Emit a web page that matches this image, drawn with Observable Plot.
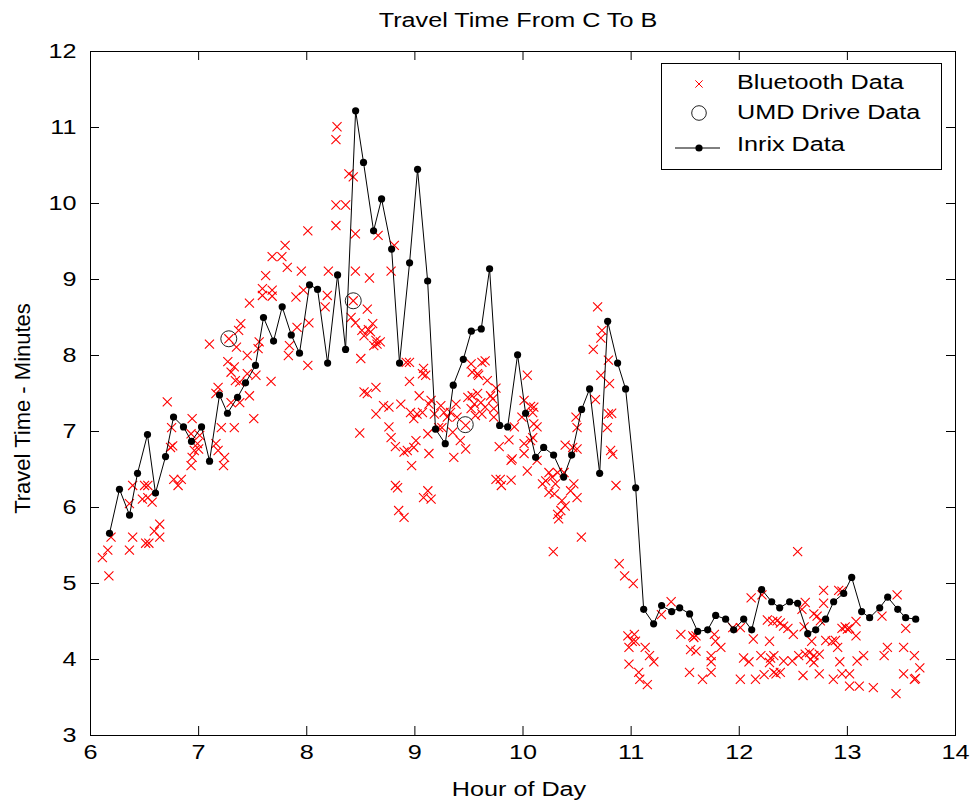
<!DOCTYPE html>
<html>
<head>
<meta charset="utf-8">
<script src="https://cdn.jsdelivr.net/npm/d3@7"></script>
<script src="https://cdn.jsdelivr.net/npm/@observablehq/plot@0.6"></script>
<style>
  html, body { margin: 0; padding: 0; background: white; }
  #chart svg { display: block; }
</style>
</head>
<body>
<div id="chart"></div>
<script>
// ---------------- DATA ----------------
const titleText = "Travel Time From C To B";
const xLabelText = "Hour of Day";
const yLabelText = "Travel Time - Minutes";
const xTicks = [6, 7, 8, 9, 10, 11, 12, 13, 14];
const yTicks = [3, 4, 5, 6, 7, 8, 9, 10, 11, 12];
const legendLabels = ["Bluetooth Data", "UMD Drive Data", "Inrix Data"];

// Inrix data (hour of day, minutes)
const inrixHour = [6.176, 6.268, 6.361, 6.435, 6.527, 6.601, 6.694, 6.768, 6.860, 6.934, 7.027, 7.101, 7.193, 7.267, 7.360, 7.434, 7.526, 7.600, 7.693, 7.773, 7.857, 7.933, 8.026, 8.100, 8.193, 8.285, 8.359, 8.452, 8.525, 8.618, 8.692, 8.785, 8.858, 8.951, 9.025, 9.118, 9.191, 9.281, 9.355, 9.448, 9.522, 9.614, 9.691, 9.784, 9.858, 9.950, 10.024, 10.117, 10.191, 10.283, 10.376, 10.450, 10.542, 10.616, 10.709, 10.783, 10.875, 10.949, 11.042, 11.116, 11.208, 11.282, 11.375, 11.449, 11.541, 11.615, 11.708, 11.782, 11.874, 11.948, 12.041, 12.115, 12.207, 12.300, 12.374, 12.466, 12.540, 12.633, 12.707, 12.799, 12.873, 12.966, 13.040, 13.132, 13.206, 13.299, 13.373, 13.466, 13.539, 13.632];
const inrixMin = [5.66, 6.24, 5.90, 6.45, 6.96, 6.19, 6.67, 7.19, 7.06, 6.87, 7.06, 6.61, 7.48, 7.24, 7.45, 7.64, 7.87, 8.50, 8.19, 8.64, 8.27, 8.03, 8.93, 8.87, 7.90, 9.06, 8.08, 11.22, 10.54, 9.64, 10.06, 9.40, 7.90, 9.22, 10.45, 8.98, 7.03, 6.84, 7.61, 7.95, 8.32, 8.35, 9.14, 7.08, 7.06, 8.01, 7.24, 6.66, 6.79, 6.69, 6.40, 6.69, 7.29, 7.56, 6.45, 8.45, 7.90, 7.56, 6.26, 4.66, 4.47, 4.71, 4.63, 4.68, 4.60, 4.37, 4.39, 4.58, 4.53, 4.39, 4.53, 4.39, 4.92, 4.76, 4.68, 4.76, 4.74, 4.34, 4.39, 4.53, 4.76, 4.87, 5.08, 4.63, 4.55, 4.68, 4.82, 4.66, 4.55, 4.53];

// UMD drive data
const umdHour = [7.279, 8.430, 9.466];
const umdMin = [8.22, 8.72, 7.09];

// Bluetooth data
const btHour = [6.11, 6.16, 6.17, 6.19, 6.36, 6.36, 6.39, 6.39, 6.48, 6.50, 6.53, 6.53, 6.51, 6.54, 6.57, 6.59, 6.64, 6.64, 6.71, 6.75, 6.74, 6.76, 6.77, 6.84, 6.81, 6.93, 7.01, 6.94, 6.99, 6.96, 7.00, 6.94, 6.93, 7.10, 7.16, 7.18, 7.24, 7.23, 7.18, 7.16, 7.21, 7.33, 7.30, 7.38, 7.27, 7.33, 7.30, 7.34, 7.38, 7.35, 7.28, 7.39, 7.37, 7.47, 7.45, 7.45, 7.53, 7.47, 7.51, 7.56, 7.55, 7.67, 7.62, 7.59, 7.68, 7.59, 7.68, 7.68, 7.77, 7.80, 7.82, 7.84, 7.83, 7.90, 7.97, 7.91, 8.02, 8.01, 7.95, 8.01, 8.19, 8.17, 8.20, 8.27, 8.27, 8.36, 8.28, 8.27, 8.39, 8.43, 8.45, 8.45, 8.58, 8.43, 8.56, 8.41, 8.45, 8.51, 8.57, 8.61, 8.59, 8.53, 8.64, 8.65, 8.68, 8.62, 8.50, 8.49, 8.66, 8.81, 8.78, 8.64, 8.53, 8.56, 8.64, 8.71, 8.76, 8.76, 8.78, 8.82, 8.82, 8.84, 8.85, 8.90, 8.92, 8.95, 8.95, 8.87, 8.90, 8.93, 8.99, 9.01, 8.97, 8.96, 9.02, 9.07, 8.99, 9.04, 9.08, 9.07, 9.10, 9.15, 9.13, 9.12, 9.13, 9.08, 9.12, 9.15, 9.18, 9.24, 9.27, 9.22, 9.25, 9.33, 9.38, 9.35, 9.30, 9.36, 9.42, 9.47, 9.47, 9.39, 9.53, 9.55, 9.52, 9.56, 9.59, 9.52, 9.53, 9.49, 9.62, 9.65, 9.58, 9.67, 9.75, 9.58, 9.70, 9.72, 9.61, 9.65, 9.73, 9.62, 9.73, 10.04, 10.01, 10.07, 10.10, 9.99, 10.09, 10.10, 10.13, 9.92, 9.87, 9.78, 10.09, 10.07, 10.01, 10.01, 9.90, 9.89, 10.04, 10.13, 9.75, 9.79, 9.80, 9.89, 10.39, 10.46, 10.50, 10.49, 10.50, 10.24, 10.32, 10.27, 10.21, 10.18, 10.38, 10.30, 10.24, 10.29, 10.47, 10.44, 10.50, 10.36, 10.39, 10.35, 10.32, 10.33, 10.54, 10.28, 10.69, 10.73, 10.72, 10.65, 10.79, 10.72, 10.80, 10.67, 10.79, 10.82, 10.78, 10.81, 10.83, 10.86, 10.89, 10.94, 11.02, 10.97, 11.03, 11.01, 10.98, 11.04, 10.98, 11.07, 11.08, 11.15, 11.13, 11.17, 11.21, 11.28, 11.37, 11.46, 11.57, 11.60, 11.58, 11.55, 11.60, 11.54, 11.66, 11.74, 11.74, 11.74, 11.77, 11.78, 11.83, 11.94, 12.01, 12.11, 12.21, 12.13, 12.04, 12.09, 12.01, 12.15, 12.20, 12.23, 12.26, 12.31, 12.35, 12.38, 12.28, 12.29, 12.32, 12.28, 12.32, 12.34, 12.38, 12.41, 12.45, 12.50, 12.41, 12.49, 12.54, 12.55, 12.61, 12.65, 12.59, 12.61, 12.58, 12.60, 12.67, 12.69, 12.72, 12.75, 12.66, 12.69, 12.69, 12.74, 12.74, 12.78, 12.78, 12.80, 12.86, 12.89, 12.91, 12.87, 12.92, 12.95, 12.93, 12.95, 13.02, 12.95, 12.98, 13.00, 13.02, 13.08, 13.08, 13.02, 13.11, 13.09, 13.15, 13.24, 13.32, 13.34, 13.37, 13.45, 13.46, 13.52, 13.54, 13.52, 13.62, 13.62, 13.63, 13.67];
const btMin = [5.34, 5.44, 5.10, 5.61, 5.44, 6.05, 5.61, 6.29, 6.11, 6.29, 6.29, 6.13, 5.53, 5.53, 6.07, 5.69, 5.78, 5.61, 7.39, 7.05, 6.79, 6.81, 6.37, 6.37, 6.29, 6.97, 6.95, 7.17, 6.84, 6.75, 6.77, 6.66, 6.55, 8.15, 6.84, 6.75, 6.66, 6.55, 7.58, 7.50, 7.05, 7.05, 7.38, 7.38, 7.92, 7.85, 7.78, 7.67, 7.65, 8.11, 8.22, 8.42, 8.33, 8.69, 8.00, 7.76, 7.74, 7.47, 7.17, 8.18, 8.09, 7.66, 9.05, 8.88, 8.86, 8.79, 8.78, 9.30, 9.30, 9.45, 9.16, 8.13, 8.00, 8.77, 8.86, 8.37, 8.43, 7.87, 9.11, 9.64, 8.79, 8.64, 9.11, 9.71, 9.98, 9.98, 11.01, 10.84, 10.39, 10.35, 9.60, 9.11, 9.02, 8.72, 8.61, 8.50, 8.43, 8.33, 8.34, 8.42, 8.31, 8.26, 8.20, 8.15, 8.18, 8.13, 7.96, 6.98, 9.58, 9.45, 9.11, 7.58, 7.52, 7.50, 7.23, 7.34, 7.32, 7.06, 6.92, 6.80, 6.29, 6.26, 5.96, 5.87, 7.91, 7.91, 7.66, 7.36, 6.73, 6.75, 6.79, 6.88, 6.55, 7.25, 7.23, 7.25, 7.17, 7.47, 7.83, 7.76, 7.74, 7.41, 7.36, 6.97, 6.71, 6.13, 6.22, 6.11, 7.23, 7.34, 7.25, 7.05, 7.05, 7.25, 7.36, 6.99, 7.19, 6.66, 6.88, 6.77, 7.08, 7.19, 7.47, 7.36, 7.30, 7.21, 7.74, 7.89, 7.78, 7.45, 7.91, 7.93, 7.76, 7.67, 7.57, 7.50, 7.47, 7.43, 7.38, 7.32, 7.30, 7.23, 7.19, 7.74, 7.41, 7.33, 7.32, 7.19, 7.25, 7.10, 7.06, 7.06, 6.89, 6.80, 6.92, 6.88, 6.84, 6.71, 6.64, 6.62, 6.48, 6.62, 6.37, 6.37, 6.29, 6.36, 6.82, 6.79, 6.77, 7.19, 7.05, 6.46, 6.46, 6.40, 6.35, 6.31, 6.46, 6.31, 6.20, 6.18, 6.31, 6.22, 6.13, 6.09, 6.02, 5.96, 5.91, 5.85, 5.61, 5.42, 8.64, 8.33, 8.23, 8.08, 7.94, 7.74, 7.63, 7.42, 7.23, 7.24, 7.05, 6.75, 6.70, 6.29, 5.26, 5.10, 5.00, 4.31, 4.33, 4.24, 4.16, 4.24, 3.94, 3.83, 3.74, 3.67, 4.16, 4.05, 3.97, 4.59, 4.76, 4.33, 4.31, 4.31, 4.29, 4.13, 4.11, 3.83, 3.74, 3.83, 4.05, 3.97, 4.33, 4.24, 4.16, 4.42, 4.42, 4.81, 4.85, 4.27, 4.02, 3.97, 3.74, 3.74, 4.05, 3.80, 4.52, 4.50, 4.51, 4.48, 4.24, 4.02, 4.05, 3.96, 3.83, 3.81, 3.83, 4.44, 4.41, 4.33, 3.98, 3.98, 5.42, 4.05, 4.07, 4.09, 3.79, 4.75, 4.66, 4.43, 4.24, 4.60, 4.57, 4.51, 4.00, 4.05, 3.96, 4.07, 3.81, 4.91, 4.74, 4.25, 4.24, 4.25, 4.16, 3.74, 4.91, 4.90, 3.97, 3.81, 3.81, 4.41, 4.43, 4.40, 4.41, 4.50, 4.31, 3.65, 3.65, 3.98, 4.05, 3.63, 4.57, 4.05, 4.16, 3.55, 4.85, 4.16, 4.41, 3.81, 4.05, 3.74, 3.75, 3.89];

// ---------------- TABLES ----------------
const bt = btHour.map((h, i) => ({hour: h, min: btMin[i]}));
const umd = umdHour.map((h, i) => ({hour: h, min: umdMin[i]}));
const inrix = inrixHour.map((h, i) => ({hour: h, min: inrixMin[i]}));

// ---------------- LAYOUT ----------------
const W = 974, H = 808;
const mt = 51, mb = 73, ml = 90, mr = 19;
const plotW = W - ml - mr, plotH = H - mt - mb;
const tickLen = 9;
const FONT = "'Liberation Sans', Arial, Helvetica, sans-serif";
const FS = 21;
const STRETCH = 1.2;

const chart = Plot.plot({
  width: W, height: H,
  marginTop: mt, marginBottom: mb, marginLeft: ml, marginRight: mr,
  x: {domain: [6, 14], axis: null},
  y: {domain: [3, 12], axis: null},
  style: {fontFamily: FONT, fontSize: FS + "px", background: "white", color: "black", overflow: "visible"},
  marks: [
    // Bluetooth
    Plot.dot(bt, {x: "hour", y: "min", symbol: "times", r: 4.2, stroke: "#ff0000", strokeWidth: 1.1}),
    // UMD
    Plot.dot(umd, {x: "hour", y: "min", r: 8, stroke: "#222", fill: "none", strokeWidth: 1}),
    // Inrix
    Plot.line(inrix, {x: "hour", y: "min", stroke: "black", strokeWidth: 1}),
    Plot.dot(inrix, {x: "hour", y: "min", r: 3.6, fill: "black", stroke: "none"}),
    // frame and inward ticks
    Plot.frame({stroke: "black", strokeWidth: 1}),
    Plot.tickX(xTicks, {x: d => d, insetTop: plotH - tickLen, stroke: "black"}),
    Plot.tickX(xTicks, {x: d => d, insetBottom: plotH - tickLen, stroke: "black"}),
    Plot.tickY(yTicks, {y: d => d, insetRight: plotW - tickLen, stroke: "black"}),
    Plot.tickY(yTicks, {y: d => d, insetLeft: plotW - tickLen, stroke: "black"}),
    // tick labels
    Plot.text(xTicks, {x: d => d, text: d => String(d), frameAnchor: "bottom", lineAnchor: "middle", textAnchor: "middle", dy: 17, fontSize: FS, fill: "black"}),
    Plot.text(yTicks, {y: d => d, text: d => String(d), frameAnchor: "left", lineAnchor: "middle", textAnchor: "end", dx: -14, fontSize: FS, fill: "black"}),
    // title and axis labels
    Plot.text([titleText], {text: d => d, frameAnchor: "top", lineAnchor: "middle", textAnchor: "middle", dy: -31, dx: -5, fontSize: FS, fill: "black"}),
    Plot.text([xLabelText], {text: d => d, frameAnchor: "bottom", lineAnchor: "middle", textAnchor: "middle", dy: 54, dx: -4, fontSize: FS, fill: "black"}),
    Plot.text([yLabelText], {text: d => d, frameAnchor: "left", lineAnchor: "middle", textAnchor: "middle", dx: -68, dy: 15, rotate: -90, fontSize: 22, fill: "black"})
  ]
});

document.getElementById("chart").appendChild(chart);

// Stretch horizontal texts horizontally (the reference font is rendered wide)
chart.querySelectorAll("text").forEach(t => {
  const tr = t.getAttribute("transform") || "";
  if (tr.includes("rotate")) return;
  t.setAttribute("transform", `${tr} scale(${STRETCH},1)`);
});

// ---------------- LEGEND ----------------
const svg = d3.select(chart);
const lg = svg.append("g").attr("font-family", FONT).attr("font-size", FS);
lg.append("rect").attr("x", 661.5).attr("y", 63.5).attr("width", 280).attr("height", 106)
  .attr("fill", "white").attr("stroke", "black").attr("stroke-width", 1);
const symX = 699, textX = 737;
const rowsY = [82, 112, 144];
const symY = [84, 113, 148];
// Bluetooth marker
lg.append("path").attr("d", d3.symbol(d3.symbolTimes, Math.PI * 3.4 * 3.4)())
  .attr("transform", `translate(${symX},${symY[0]})`).attr("fill", "none").attr("stroke", "#ff0000");
// UMD marker
lg.append("circle").attr("cx", symX).attr("cy", symY[1]).attr("r", 7.3)
  .attr("fill", "none").attr("stroke", "#222");
// Inrix marker
lg.append("line").attr("x1", 675).attr("x2", 720).attr("y1", symY[2]).attr("y2", symY[2]).attr("stroke", "black");
lg.append("circle").attr("cx", symX).attr("cy", symY[2]).attr("r", 3.6).attr("fill", "black");
legendLabels.forEach((lab, i) => {
  lg.append("text").attr("transform", `translate(${textX},${rowsY[i]}) scale(${STRETCH},1)`)
    .attr("text-anchor", "start").attr("dy", "0.35em").attr("fill", "black").text(lab);
});
</script>
</body>
</html>
